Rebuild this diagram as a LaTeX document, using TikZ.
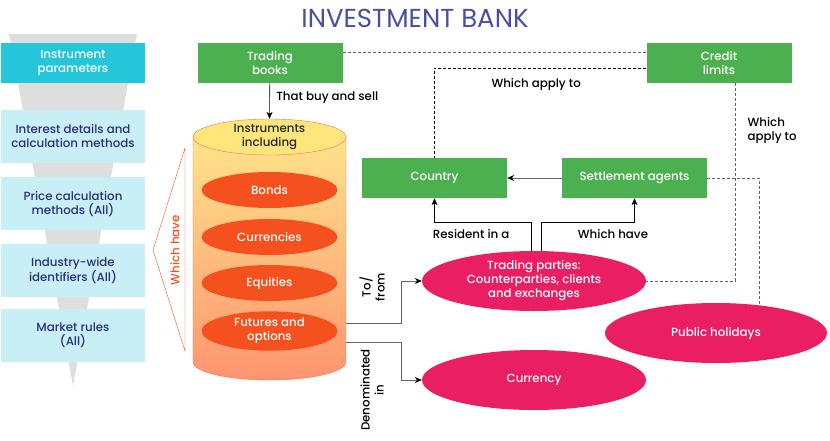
\documentclass[tikz,border=0pt]{standalone}
\usepackage{fontspec}
\setmainfont{Poppins Medium}
\newfontfamily\titlefont{Poppins}
\usetikzlibrary{positioning,shapes.geometric,arrows.meta}

\definecolor{titleblue}{HTML}{4A4F9F}
\definecolor{paramcyan}{HTML}{26C6DA}
\definecolor{paramlight}{HTML}{C8EFF5}
\definecolor{paramtext}{HTML}{2B2E7D}
\definecolor{bankgreen}{HTML}{4CAF50}
\definecolor{partypink}{HTML}{E91E63}
\definecolor{instrorange}{HTML}{F4511E}
\definecolor{cylborder}{HTML}{FF7043}
\definecolor{cyltop}{HTML}{FFE38A}
\definecolor{cylbottom}{HTML}{FF9470}
\definecolor{funnelgray}{HTML}{DEDEDE}
\definecolor{linegray}{HTML}{666666}

\begin{document}
\begin{tikzpicture}[x=1pt, y=-1pt, font=\fontsize{11.8}{14}\selectfont]
		
		\useasboundingbox (0,0) rectangle (830,440);
		
		\tikzstyle{paramBox} = [rectangle, fill=paramcyan, text=white, minimum width=144pt, minimum height=40pt, align=center, inner sep=2pt]
		\tikzstyle{detailBox} = [rectangle, fill=paramlight, text=paramtext, minimum width=144pt, minimum height=53pt, align=center, inner sep=2pt]
		\tikzstyle{greenBox} = [rectangle, fill=bankgreen, text=white, minimum width=145pt, minimum height=40pt, align=center, inner sep=2pt]
		\tikzstyle{partyBall} = [ellipse, fill=partypink, text=white, minimum width=224pt, minimum height=60pt, align=center, inner sep=1pt]
		\tikzstyle{instrBall} = [ellipse, fill=instrorange, text=white, minimum width=136pt, minimum height=36pt, align=center, inner sep=1pt]
		\tikzstyle{arrowLine} = [-{Stealth[black, length=7pt, width=6pt]}, linegray, semithick]
		\tikzstyle{dashLine} = [densely dashed, linegray, semithick]
		
		% Title
		\node[text=titleblue, font=\titlefont\fontsize{26}{30}\selectfont] (title) at (415,18) {INVESTMENT BANK};
		
		% Funnel
		\fill[funnelgray] (9,34) -- (137,34) -- (73,386) -- cycle;
		
		% Instrument parameters
		\node[paramBox] (params) at (73,63) {Instrument\\parameters};
		\node[detailBox] (interest) at (73,136.5) {Interest details and\\calculation methods};
		\node[detailBox, below=14pt of interest] (price) {Price calculation\\methods (All)};
		\node[detailBox, below=13pt of price] (ident) {Industry-wide\\identifiers (All)};
		\node[detailBox, below=12pt of ident] (rules) {Market rules\\(All)};
		
		% Which have bracket
		\draw[instrorange] (185,148) -- (185,351) -- (153,250) -- cycle;
		\node[text=instrorange, rotate=90] (whichhave) at (175,250) {Which have};
		
		% Cylinder
		\shade[top color=cyltop, bottom color=cylbottom, draw=cylborder] (193,137) -- (193,362) arc (180:0:76.5 and 18) -- (346,137) -- cycle;
		\node[ellipse, fill=cyltop!90!yellow, draw=cylborder, minimum width=153pt, minimum height=36pt, inner sep=0pt, align=center, text=black!85] (instr) at (269.5,137) {Instruments\\including};
		
		\node[instrBall] (bonds) at (269.5,190) {Bonds};
		\node[instrBall] (currencies) at (269.5,237) {Currencies};
		\node[instrBall] (equities) at (269.5,283) {Equities};
		\node[instrBall] (futures) at (269.5,331) {Futures and\\options};
		
		\coordinate (tofromstart) at (346,323);
		\coordinate (denomstart) at (346,342);
		
		% Bank nodes
		\node[greenBox] (books) at (270,63) {Trading\\books};
		\node[greenBox] (credit) at (719,63) {Credit\\limits};
		\node[greenBox] (country) at (434.5,178) {Country};
		\node[greenBox] (agents) at (634.5,178) {Settlement agents};
		
		\node[partyBall] (parties) at (534,281) {Trading parties:\\Counterparties, clients\\and exchanges};
		\node[partyBall, minimum width=222pt] (holidays) at (716,333) {Public holidays};
		\node[partyBall] (currency) at (534,380) {Currency};
		
		% Connectors
		\draw[arrowLine, black] (books) -- node[right=3pt, pos=0.4, black] {That buy and sell} (instr.north);
		\draw[dashLine] ([yshift=11pt]books.east) -- ([yshift=11pt]credit.west);
		\draw[densely dashed, black, semithick] ([yshift=-5pt]credit.west) -| node[pos=0.26, below=7pt] {Which apply to} (country.north);
		\draw[dashLine] ([xshift=16pt]credit.south) |- node[pos=0.12, right=9pt, align=left, black] {Which\\apply to} (parties.east);
		\draw[dashLine] (agents.east) -| (holidays.33);
		\draw[arrowLine] (agents) -- (country);
		\draw[arrowLine, black] ([xshift=-3pt]parties.north) -- ++(0,-29) -| node[pos=0.31, below=4pt] {Resident in a} (country.south);
		\draw[arrowLine, black] ([xshift=7pt]parties.north) -- ++(0,-29) -| node[pos=0.385, below=4pt] {Which have} (agents.south);
		\draw[arrowLine] (tofromstart) -- ++(55,0) |- (parties.west);
		\draw[arrowLine] (denomstart) -- ++(55,0) |- (currency.west);
		
		\node[rotate=90, align=center] (tofrom) at (372,287) {To/\\from};
		\node[rotate=90, align=center] (denom) at (372,390) {Denominated\\in};
		
	\end{tikzpicture}
\end{document}
